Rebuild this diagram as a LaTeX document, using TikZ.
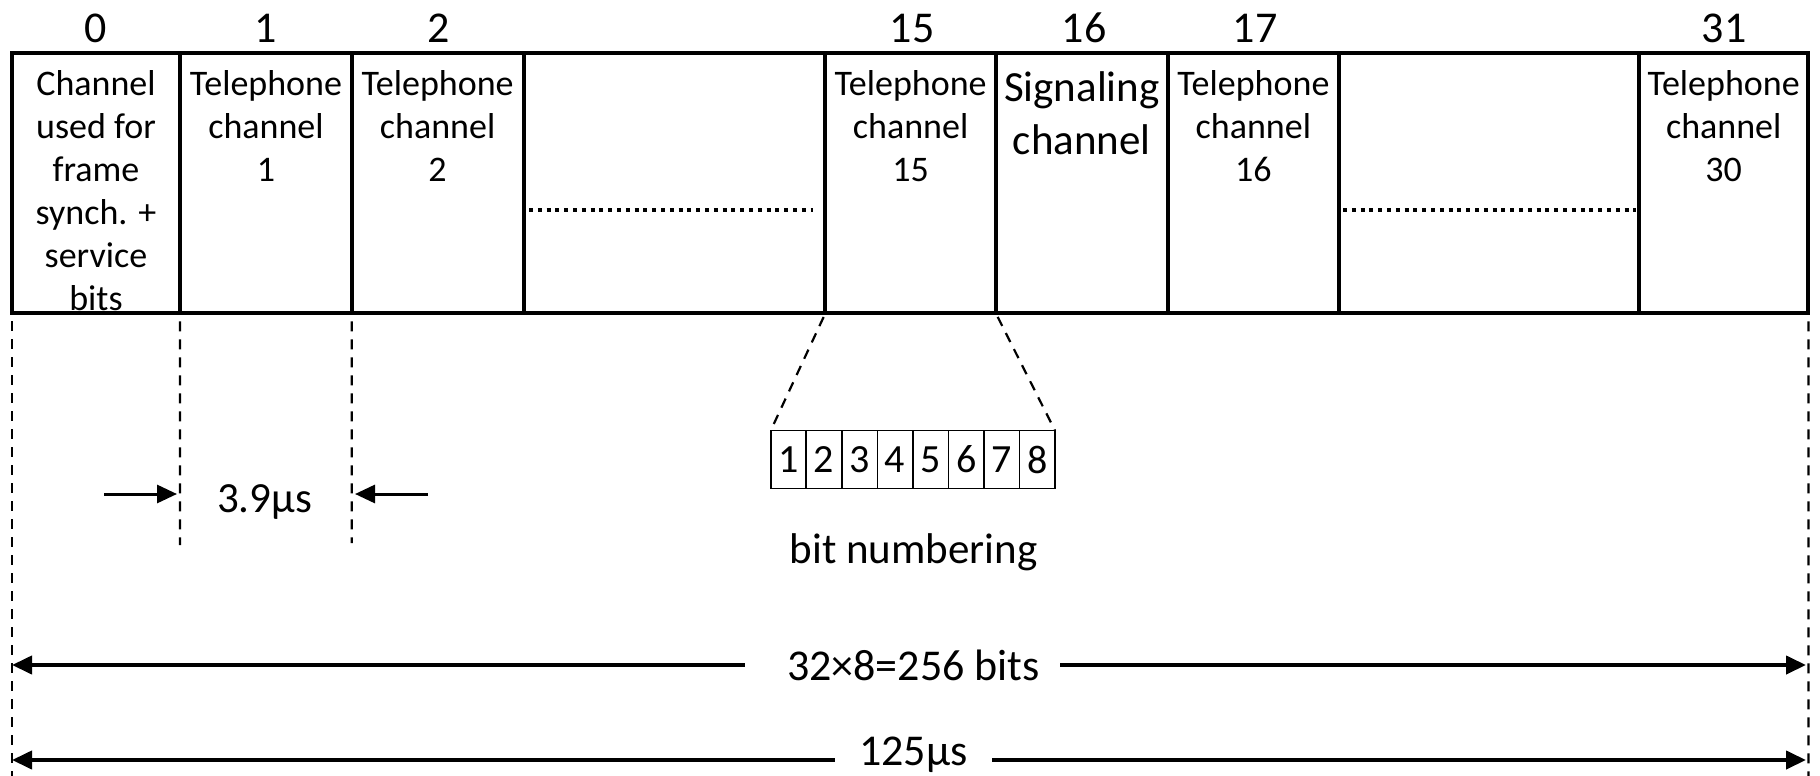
\documentclass[tikz,border=0pt]{standalone}
\usepackage{fontspec}
\setmainfont{Carlito}
\usetikzlibrary{arrows.meta}
\begin{document}
\begin{tikzpicture}[x=0.5pt,y=-0.5pt,
  cell/.style={draw,line width=2pt,inner sep=0pt,outer sep=0pt,anchor=north west,minimum height=130pt},
  celltext/.style={anchor=north,inner sep=0pt,align=center,font=\fontsize{18}{21.5}\selectfont},
  sigtext/.style={anchor=north,inner sep=0pt,align=center,font=\fontsize{21.5}{26.5}\selectfont},
  num/.style={anchor=base,inner sep=0pt,font=\fontsize{22}{26}\selectfont},
  bitcell/.style={draw,line width=0.8pt,inner sep=0pt,outer sep=0pt,minimum width=17.77pt,minimum height=29pt,font=\fontsize{20}{24}\selectfont},
  lbl/.style={inner sep=0pt,font=\fontsize{22}{26}\selectfont},
  dashline/.style={line width=1.1pt,dash pattern=on 5pt off 4pt},
  dotline/.style={line width=2.2pt,dash pattern=on 2pt off 2.4pt},
  arr/.style={line width=1.5pt,-{Triangle[length=10pt,width=9pt]}},
  longarr/.style={line width=2pt,-{Triangle[length=10pt,width=9pt]}}
]
\useasboundingbox (0,0) rectangle (1820,776);

% frame cells
\node[cell,minimum width=84.2pt] (c0) at (11.6,53.4) {};
\node[cell,minimum width=85.85pt] (c1) at (180,53.4) {};
\node[cell,minimum width=85.9pt] (c2) at (351.7,53.4) {};
\node[cell,minimum width=150.9pt] (cd1) at (523.5,53.4) {};
\node[cell,minimum width=85.3pt] (c15) at (825.3,53.4) {};
\node[cell,minimum width=85.9pt] (c16) at (995.9,53.4) {};
\node[cell,minimum width=85.65pt] (c17) at (1167.7,53.4) {};
\node[cell,minimum width=150pt] (cd2) at (1339,53.4) {};
\node[cell,minimum width=84.7pt] (c31) at (1639,53.4) {};

% slot numbers
\node[num] (n0) at (96,42) {0};
\node[num] (n1) at (266,42) {1};
\node[num] (n2) at (439,42) {2};
\node[num] (n15) at (912,42) {15};
\node[num] (n16) at (1084,42) {16};
\node[num] (n17) at (1255,42) {17};
\node[num] (n31) at (1724,42) {31};

% cell texts
\node[celltext] (t0) at (96,70) {Channel\\used for\\frame\\synch. +\\service\\bits};
\node[celltext] (t1) at (266,70) {Telephone\\channel\\1};
\node[celltext] (t2) at (437.6,70) {Telephone\\channel\\2};
\node[celltext] (t15) at (910.6,70) {Telephone\\channel\\15};
\node[sigtext] (t16) at (1081.8,71) {Signaling\\channel};
\node[celltext] (t17) at (1253.4,70) {Telephone\\channel\\16};
\node[celltext] (t31) at (1723.7,70) {Telephone\\channel\\30};

% dotted fillers
\draw[dotline] (529,210) -- (812.5,210);
\draw[dotline] (1343,210) -- (1635.6,210);

% dashed verticals
\coordinate (e0) at (11.6,776);
\coordinate (e1) at (180,545);
\coordinate (e2) at (351.7,543);
\coordinate (e31) at (1808.4,776);
\draw[dashline,shorten <=4pt] (c0.south west) -- (e0);
\draw[dashline,shorten <=4pt] (c0.south east) -- (e1);
\draw[dashline,shorten <=4pt] (c1.south east) -- (e2);
\draw[dashline,shorten <=4pt] (c31.south east) -- (e31);

% 3.9 us
\coordinate (a1s) at (104,494);
\coordinate (a1e) at (177,494);
\coordinate (a2s) at (428,494);
\coordinate (a2e) at (355,494);
\draw[arr] (a1s) -- (a1e);
\draw[arr] (a2s) -- (a2e);
\node[lbl,font=\fontsize{21.5}{26}\selectfont] (d39) at (264.6,502) {3.9µs};

% bit numbering
\foreach \i in {1,...,8}{
  \node[bitcell] (b\i) at ({770.7+35.54*(\i-0.5)},459.6) {\i};
}
\draw[dashline,shorten <=2pt] (c15.south west) -- (b1.north west);
\draw[dashline,shorten <=2pt] (c15.south east) -- (b8.north east);
\node[lbl,font=\fontsize{21.5}{26}\selectfont] (bn) at (913.5,552) {bit numbering};

% 256 bits
\node[lbl] (w) at (913.5,665) {32×8=256 bits};
\coordinate (wl) at (12,665);
\coordinate (wr) at (1806,665);
\draw[longarr,shorten <=21pt] (w.west) -- (wl);
\draw[longarr,shorten <=10pt] (w.east) -- (wr);

% 125 us
\node[lbl] (t) at (913.5,755) {125µs};
\coordinate (tl) at (12,760);
\coordinate (tr) at (1806,760);
\draw[longarr,shorten <=12pt] (t.west |- tl) -- (tl);
\draw[longarr,shorten <=12pt] (t.east |- tr) -- (tr);
\end{tikzpicture}
\end{document}
